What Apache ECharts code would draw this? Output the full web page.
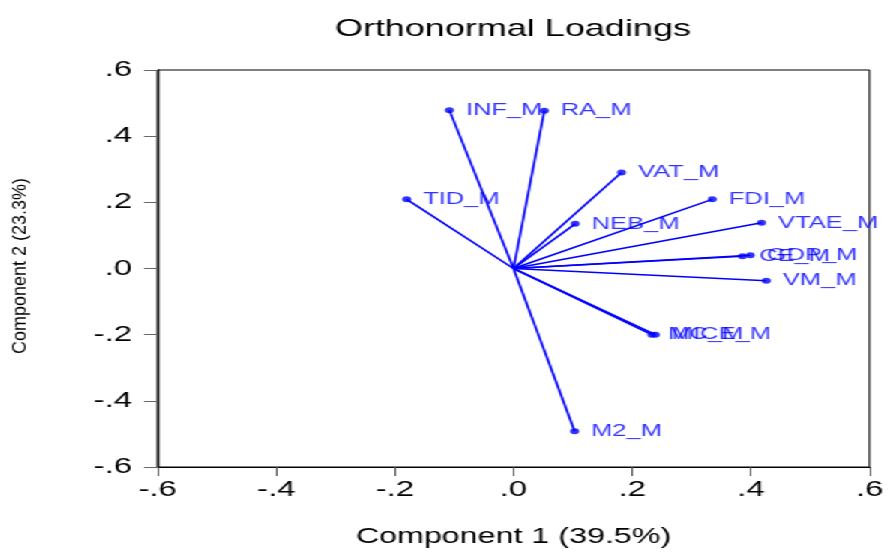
<!DOCTYPE html>
<html>
<head>
<meta charset="utf-8">
<script src="https://cdn.jsdelivr.net/npm/echarts@6/dist/echarts.min.js"></script>
<style>
  html, body { margin: 0; padding: 0; background: #fff; overflow: hidden; }
  /* the source picture is a narrower plot stretched sideways, so draw it narrow and stretch it */
  #chart { width: 592px; height: 553px; transform: scaleX(1.5); transform-origin: 0 0; }
</style>
</head>
<body>
<div id="chart"></div>
<script>
// loadings
var names = ['INF_M', 'RA_M', 'VAT_M', 'TID_M', 'FDI_M', 'NEB_M', 'VTAE_M', 'CE_M', 'GDP_M', 'VM_M', 'MC_M', 'MICE_M', 'M2_M']
var comp1 = [-0.108, 0.052, 0.182, -0.180, 0.335, 0.104, 0.418, 0.386, 0.399, 0.426, 0.233, 0.239, 0.103]
var comp2 = [0.478, 0.477, 0.290, 0.209, 0.209, 0.135, 0.138, 0.037, 0.040, -0.037, -0.200, -0.200, -0.492]
var ticks = [-0.6, -0.4, -0.2, 0.0, 0.2, 0.4, 0.6]

var blue = '#0000ff'
var fontFam = 'Arial, "Liberation Sans", sans-serif'

function fmt (v) {
  var s = Math.abs(v).toFixed(1).replace(/^0/, '')
  return (v < -1e-9 ? '-' : '') + s
}

var points = names.map(function (n, i) { return { name: n, value: [comp1[i], comp2[i]] } })
var vectors = names.map(function (n, i) { return { coords: [[0, 0], [comp1[i], comp2[i]]] } })

var chart = echarts.init(document.getElementById('chart'))
chart.setOption({
  animation: false,
  title: {
    text: 'Orthonormal Loadings',
    left: 337,
    top: 12,
    textAlign: 'center',
    textStyle: { fontFamily: fontFam, fontSize: 24, fontWeight: 'normal', color: '#000' }
  },
  graphic: [{
    type: 'text',
    x: 14,
    y: 266,
    rotation: Math.PI / 2,
    scaleY: 0.7,
    style: {
      text: 'Component 2 (23.3%)',
      fontFamily: fontFam,
      fontSize: 18,
      fill: '#000',
      align: 'center',
      verticalAlign: 'middle'
    }
  }],
  grid: {
    left: 105, right: 12, top: 70, bottom: 80,
    show: true, borderColor: '#000', borderWidth: 1
  },
  xAxis: {
    type: 'value',
    min: ticks[0], max: ticks[ticks.length - 1], interval: 0.2,
    name: 'Component 1 (39.5%)',
    nameLocation: 'middle',
    nameGap: 59,
    nameTextStyle: { fontFamily: fontFam, fontSize: 21.5, color: '#000' },
    axisLine: { onZero: false, lineStyle: { color: '#000', width: 1.2 } },
    axisTick: { show: true, inside: false, length: 9, lineStyle: { color: '#555' } },
    axisLabel: { formatter: fmt, fontFamily: fontFam, fontSize: 22, color: '#000', margin: 12 },
    splitLine: { show: false }
  },
  yAxis: {
    type: 'value',
    min: ticks[0], max: ticks[ticks.length - 1], interval: 0.2,
    axisLine: { onZero: false, lineStyle: { color: '#000', width: 1.4 } },
    axisTick: { show: true, inside: false, length: 9, lineStyle: { color: '#666' } },
    axisLabel: { formatter: fmt, fontFamily: fontFam, fontSize: 22, color: '#000', margin: 17 },
    splitLine: { show: false }
  },
  series: [
    {
      type: 'lines',
      coordinateSystem: 'cartesian2d',
      data: vectors,
      lineStyle: { color: blue, width: 1.6, opacity: 1 },
      z: 2
    },
    {
      type: 'scatter',
      data: points,
      symbol: 'circle',
      symbolSize: 6,
      itemStyle: { color: blue },
      label: {
        show: true,
        position: 'right',
        distance: 8,
        formatter: '{b}',
        color: blue,
        fontFamily: fontFam,
        fontSize: 17
      },
      z: 3
    }
  ]
})
</script>
</body>
</html>
